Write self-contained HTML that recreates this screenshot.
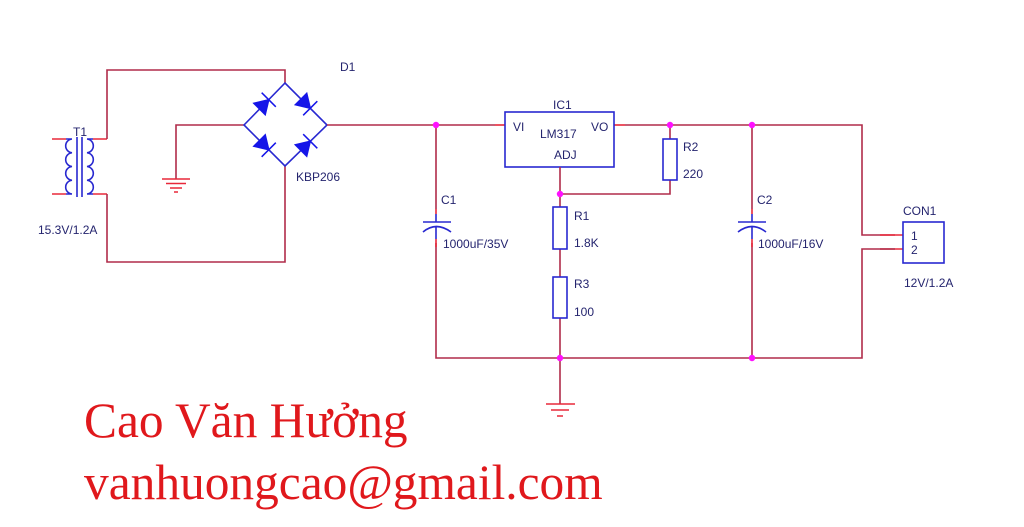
<!DOCTYPE html>
<html>
<head>
<meta charset="utf-8">
<style>
html,body{margin:0;padding:0;background:#fff;}
svg{display:block;}
.w{stroke:#b02c4a;stroke-width:1.6;fill:none;}
.p{stroke:#e8283a;stroke-width:1.6;fill:none;}
.b{stroke:#2828d0;stroke-width:1.6;fill:none;}
.t{font-family:"Liberation Sans",Arial,sans-serif;font-size:12px;fill:#24246e;}
.big{font-family:"Liberation Serif","Times New Roman",serif;font-size:49.4px;fill:#e0181c;}
</style>
</head>
<body>
<svg width="1024" height="527" viewBox="0 0 1024 527" xmlns="http://www.w3.org/2000/svg">
<!-- transformer -->
<path class="p" d="M52 139 H66 M52 194 H66 M93 139 H107 M93 194 H107"/>
<path class="b" d="M72 139 a6.9 6.9 0 0 0 0 13.75 a6.9 6.9 0 0 0 0 13.75 a6.9 6.9 0 0 0 0 13.75 a6.9 6.9 0 0 0 0 13.75 M66 139 H72 M66 194 H72"/>
<path class="b" d="M87 139 a6.9 6.9 0 0 1 0 13.75 a6.9 6.9 0 0 1 0 13.75 a6.9 6.9 0 0 1 0 13.75 a6.9 6.9 0 0 1 0 13.75 M87 139 H93 M87 194 H93"/>
<path class="b" d="M77 137 V197 M82 137 V197" stroke-width="1.3"/>
<text class="t" x="73" y="136" font-size="11">T1</text>
<text class="t" x="38" y="234">15.3V/1.2A</text>

<!-- wires around transformer/bridge -->
<path class="w" d="M107 139 V70 H285 V83"/>
<path class="w" d="M107 194 V262 H285 V166"/>
<path class="w" d="M244 125 H176 V179"/>
<!-- ground 1 -->
<path class="p" d="M162 179 H190 M166 183.5 H186 M170 188 H182 M174 192 H178"/>

<!-- bridge -->
<path class="b" d="M244 125 L285 83 L327 125 L285 166 Z"/>
<g fill="#1515e8" stroke="#1515e8" stroke-width="1.5">
  <g transform="translate(264.5,104) rotate(-45)">
    <polygon points="-7,-8 -7,8 6,0"/><line x1="6" y1="-10" x2="6" y2="10"/>
  </g>
  <g transform="translate(306,104) rotate(45)">
    <polygon points="-7,-8 -7,8 6,0"/><line x1="6" y1="-10" x2="6" y2="10"/>
  </g>
  <g transform="translate(264.5,145.5) rotate(45)">
    <polygon points="-7,-8 -7,8 6,0"/><line x1="6" y1="-10" x2="6" y2="10"/>
  </g>
  <g transform="translate(306,145.5) rotate(-45)">
    <polygon points="-7,-8 -7,8 6,0"/><line x1="6" y1="-10" x2="6" y2="10"/>
  </g>
</g>
<text class="t" x="340" y="71">D1</text>
<text class="t" x="296" y="181">KBP206</text>

<!-- main wires -->
<path class="w" d="M327 125 H495"/>
<path class="p" d="M495 125 H505"/>
<path class="p" d="M614 125 H625"/>
<path class="w" d="M625 125 H862 V235 H895"/>
<path class="p" d="M880 235 H903 M880 249 H903"/>
<path class="w" d="M895 249 H862 V358 H436 V243"/>
<path class="w" d="M436 125 V209"/>
<path class="p" d="M436 209 V214 M436 239 V247"/>
<!-- C1 -->
<path class="b" d="M436 214 V222 M423 222 H451 M423 232 Q436 221 451 232 M436 227 V239"/>
<text class="t" x="441" y="204">C1</text>
<text class="t" x="443" y="248">1000uF/35V</text>

<!-- IC -->
<rect x="505" y="112" width="109" height="55" class="b"/>
<text class="t" x="553" y="109">IC1</text>
<text class="t" x="513" y="131">VI</text>
<text class="t" x="540" y="138">LM317</text>
<text class="t" x="591" y="131">VO</text>
<text class="t" x="554" y="159">ADJ</text>

<!-- ADJ & resistors -->
<path class="w" d="M560 167 V207 M560 194 H670 V180 M670 125 V139 M560 249 V277 M560 318 V404"/>
<rect x="553" y="207" width="14" height="42" class="b"/>
<rect x="553" y="277" width="14" height="41" class="b"/>
<rect x="663" y="139" width="14" height="41" class="b"/>
<text class="t" x="683" y="151">R2</text>
<text class="t" x="683" y="178">220</text>
<text class="t" x="574" y="220">R1</text>
<text class="t" x="574" y="247">1.8K</text>
<text class="t" x="574" y="288">R3</text>
<text class="t" x="574" y="316">100</text>
<!-- ground 2 -->
<path class="p" d="M546 404 H575 M551 410 H569 M557 416 H563"/>

<!-- C2 -->
<path class="w" d="M752 125 V209 M752 243 V358"/>
<path class="p" d="M752 209 V214 M752 239 V247"/>
<path class="b" d="M752 214 V222 M738 222 H766 M738 232 Q752 221 766 232 M752 227 V239"/>
<text class="t" x="757" y="204">C2</text>
<text class="t" x="758" y="248">1000uF/16V</text>

<!-- connector -->
<rect x="903" y="222" width="41" height="41" class="b"/>
<text class="t" x="903" y="215">CON1</text>
<text class="t" x="911" y="240">1</text>
<text class="t" x="911" y="254">2</text>
<text class="t" x="904" y="287">12V/1.2A</text>

<!-- junctions -->
<g fill="#ff10ff">
<circle cx="436" cy="125" r="3.2"/>
<circle cx="670" cy="125" r="3.2"/>
<circle cx="752" cy="125" r="3.2"/>
<circle cx="560" cy="194" r="3.2"/>
<circle cx="560" cy="358" r="3.2"/>
<circle cx="752" cy="358" r="3.2"/>
</g>

<!-- author text -->
<text class="big" x="84" y="437">Cao Văn Hưởng</text>
<text class="big" x="84" y="499">vanhuongcao@gmail.com</text>
</svg>
</body>
</html>
